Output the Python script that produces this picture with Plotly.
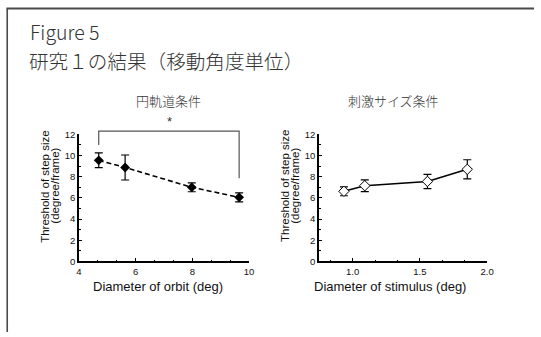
import plotly.graph_objects as go

# ---- data ----
orbit_x = [4.7, 5.63, 7.98, 9.65]
orbit_y = [9.55, 8.87, 7.0, 6.05]
orbit_err = [0.70, 1.18, 0.42, 0.42]

stim_x = [0.935, 1.09, 1.556, 1.852]
stim_y = [6.62, 7.15, 7.55, 8.7]
stim_err = [0.42, 0.55, 0.67, 0.90]

bracket_x = [4.7, 4.7, 9.65, 9.65]
bracket_y = [11.0, 12.3, 12.3, 7.85]
star_x = [7.2]
star_y = [13.1]

y_ticks = [0, 2, 4, 6, 8, 10, 12]
orbit_ticks = [4, 6, 8, 10]
stim_ticks = [1.0, 1.5, 2.0]
stim_ticklabels = ["1.0", "1.5", "2.0"]

W, H = 541, 337
AX_FONT = "Liberation Sans, Arial, sans-serif"
JP_FONT = "Noto Sans CJK JP, Noto Sans, sans-serif"

# plot-area geometry (pixels from top-left)
Y_BOTTOM, Y_TOP, Y_OVER = 264.0, 132.7, 108.0
ydom = [1 - Y_BOTTOM / H, 1 - Y_TOP / H]
over_dom = [1 - Y_BOTTOM / H, 1 - Y_OVER / H]
over_top = 12 * (Y_BOTTOM - Y_OVER) / (Y_BOTTOM - Y_TOP)

fig = go.Figure()

fig.add_trace(go.Scatter(
    x=orbit_x, y=orbit_y, mode="lines+markers",
    line=dict(color="black", width=1.6, dash="5px,3px"),
    marker=dict(symbol="diamond", size=7.5, color="black"),
    error_y=dict(type="data", array=orbit_err, visible=True, color="black", thickness=1.2, width=4),
    xaxis="x", yaxis="y", showlegend=False, cliponaxis=False,
))
fig.add_trace(go.Scatter(
    x=bracket_x, y=bracket_y, mode="lines",
    line=dict(color="#555555", width=1.2),
    xaxis="x3", yaxis="y3", showlegend=False, hoverinfo="skip",
))
fig.add_trace(go.Scatter(
    x=star_x, y=star_y, mode="text", text=["*"],
    textfont=dict(family=AX_FONT, size=13, color="#333333"),
    xaxis="x3", yaxis="y3", showlegend=False, hoverinfo="skip",
))
fig.add_trace(go.Scatter(
    x=stim_x, y=stim_y, mode="lines+markers",
    line=dict(color="black", width=1.6),
    marker=dict(symbol="diamond", size=8, color="white", line=dict(color="black", width=1)),
    error_y=dict(type="data", array=stim_err, visible=True, color="black", thickness=1.2, width=4),
    xaxis="x2", yaxis="y2", showlegend=False, cliponaxis=False,
))

axis_common = dict(
    showline=True, linecolor="black", linewidth=1.5, mirror=False,
    ticks="inside", ticklen=3.5, tickwidth=1.2, tickcolor="black",
    showgrid=False, zeroline=False,
    tickfont=dict(family=AX_FONT, size=9.5, color="#111111"),
)
yaxis_common = dict(axis_common, range=[0, 12], tickvals=y_ticks,
                    minor=dict(dtick=1, tick0=0, ticks="inside", ticklen=2, tickcolor="black", tickwidth=1))
left_dom = [77.3 / W, 250.7 / W]

fig.update_layout(
    width=W, height=H, margin=dict(l=0, r=0, t=0, b=0),
    paper_bgcolor="white", plot_bgcolor="rgba(0,0,0,0)",
    xaxis=dict(axis_common, domain=left_dom, range=[4, 10], tickvals=orbit_ticks,
               minor=dict(dtick=2 / 3, tick0=4, ticks="inside", ticklen=2, tickcolor="black", tickwidth=1),
               anchor="y"),
    yaxis=dict(yaxis_common, domain=ydom, anchor="x"),
    xaxis2=dict(axis_common, domain=[322 / W, 493.3 / W], range=[0.75, 2.0],
                tickvals=stim_ticks, ticktext=stim_ticklabels,
                minor=dict(dtick=1 / 6, tick0=1.0, ticks="inside", ticklen=2, tickcolor="black", tickwidth=1),
                anchor="y2"),
    yaxis2=dict(yaxis_common, domain=ydom, anchor="x2"),
    xaxis3=dict(domain=left_dom, range=[4, 10], visible=False, anchor="y3"),
    yaxis3=dict(domain=over_dom, range=[0, over_top], visible=False, anchor="x3"),
)

def px_ann(text, x, y, size, family, color="#222222", xanchor="center", angle=0, weight=None):
    f = dict(family=family, size=size, color=color)
    if weight:
        f["weight"] = weight
    fig.add_annotation(text=text, x=x / W, y=1 - y / H, xref="paper", yref="paper",
                       xanchor=xanchor, yanchor="middle", showarrow=False, textangle=angle,
                       font=f)

px_ann("Figure 5", 25, 26, 19.5, JP_FONT, color="#333333", xanchor="left", weight=300)
px_ann("研究１の結果（移動角度単位）", 24, 56, 19.6, JP_FONT, color="#333333", xanchor="left", weight=300)
px_ann("円軌道条件", 168.7, 98, 13, JP_FONT, color="#333333", weight=300)
px_ann("刺激サイズ条件", 397.5, 98, 13, JP_FONT, color="#333333", weight=300)

px_ann("Diameter of orbit (deg)", 158, 290, 13, AX_FONT, color="#111111")
px_ann("Diameter of stimulus (deg)", 394, 290, 13, AX_FONT, color="#111111")
for ax_x in (77.3, 322):
    px_ann("Threshold of step size", ax_x - 34.6, 186, 11.5, AX_FONT, color="#111111", angle=-90)
    px_ann("(degree/frame)", ax_x - 24.6, 186, 11.5, AX_FONT, color="#111111", angle=-90)

# outer frame: top and left edges
fig.add_shape(type="line", xref="paper", yref="paper", x0=3.5 / W, x1=1, y0=1 - 2.5 / H, y1=1 - 2.5 / H,
              line=dict(color="#4a4a4a", width=2), layer="above")
fig.add_shape(type="line", xref="paper", yref="paper", x0=4.3 / W, x1=4.3 / W, y0=0, y1=1 - 2.5 / H,
              line=dict(color="#4a4a4a", width=1.6), layer="above")

fig.write_html("out.html")
